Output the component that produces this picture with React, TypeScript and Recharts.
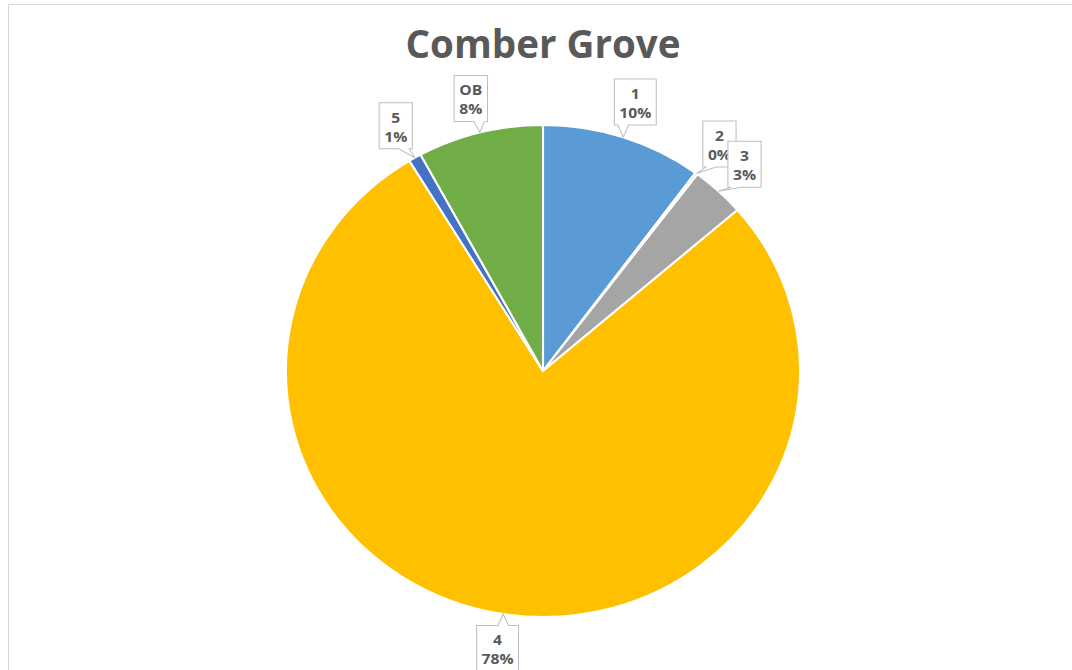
import React from "react";
import { PieChart, Pie, Cell } from "recharts";

const categories = ["1", "2", "3", "4", "5", "OB"];
const shares = [10.1, 0.15, 3.4, 77.65, 0.8, 7.9];
const colors = ["#5B9BD5", "#ED7D31", "#A5A5A5", "#FFC000", "#4472C4", "#70AD47"];
const title = "Comber Grove";

const data = categories.map((name, i) => ({ name, value: shares[i] }));

const RAD = Math.PI / 180;
const FONT = "'Open Sans', 'Noto Sans', sans-serif";
const TEXT = "#595959";
const BORDER = "#BFBFBF";

function charW(c: string) {
  if (c === "%") return 11.5;
  if (c === "O") return 11;
  if (c === "B") return 9;
  return 8.3;
}
function textW(s: string) {
  let w = 0;
  for (const c of s) w += charW(c);
  return w;
}

function renderLabel(props: any) {
  const { cx, cy, midAngle, outerRadius, percent, name } = props;
  const pct = Math.round(percent * 100) + "%";
  const w = Math.max(textW(name), textW(pct)) + 12;
  const h = 46;
  const ux = Math.cos(-midAngle * RAD);
  const uy = Math.sin(-midAngle * RAD);
  const support = Math.abs(ux) * (w / 2) + Math.abs(uy) * (h / 2);
  const R = outerRadius + 9 + support;
  const bx = cx + R * ux;
  const by = cy + R * uy;
  const tx = cx + outerRadius * ux;
  const ty = cy + outerRadius * uy;
  const x0 = bx - w / 2;
  const x1 = bx + w / 2;
  const y0 = by - h / 2;
  const y1 = by + h / 2;
  const hw = 5;
  const clamp = (v: number, a: number, b: number) => Math.max(a, Math.min(b, v));
  let d = "";
  if (ty > y1) {
    const bc = clamp(tx, x0 + 8, x1 - 8);
    d = `M${x0},${y0} L${x1},${y0} L${x1},${y1} L${bc + hw},${y1} L${tx},${ty} L${bc - hw},${y1} L${x0},${y1} Z`;
  } else if (ty < y0) {
    const bc = clamp(tx, x0 + 8, x1 - 8);
    d = `M${x0},${y0} L${bc - hw},${y0} L${tx},${ty} L${bc + hw},${y0} L${x1},${y0} L${x1},${y1} L${x0},${y1} Z`;
  } else if (tx < x0) {
    const bc = clamp(ty, y0 + 8, y1 - 8);
    d = `M${x0},${y0} L${x1},${y0} L${x1},${y1} L${x0},${y1} L${x0},${bc + hw} L${tx},${ty} L${x0},${bc - hw} Z`;
  } else {
    const bc = clamp(ty, y0 + 8, y1 - 8);
    d = `M${x0},${y0} L${x1},${y0} L${x1},${bc - hw} L${tx},${ty} L${x1},${bc + hw} L${x1},${y1} L${x0},${y1} Z`;
  }
  return (
    <g key={"lbl-" + name}>
      <path d={d} fill="#FFFFFF" stroke={BORDER} strokeWidth={1} />
      <text
        x={bx}
        y={y0 + 20}
        textAnchor="middle"
        fontFamily={FONT}
        fontWeight={700}
        fontSize={15}
        fill={TEXT}
      >
        {name}
      </text>
      <text
        x={bx}
        y={y0 + 39}
        textAnchor="middle"
        fontFamily={FONT}
        fontWeight={700}
        fontSize={15}
        fill={TEXT}
      >
        {pct}
      </text>
    </g>
  );
}

export default function App() {
  return (
    <div
      style={{
        position: "absolute",
        left: 0,
        top: 0,
        width: 1072,
        height: 670,
        background: "#FFFFFF",
        overflow: "hidden",
      }}
    >
      <div
        style={{
          position: "absolute",
          left: 8,
          top: 4,
          width: 1080,
          height: 700,
          border: "1px solid #D9D9D9",
          boxSizing: "border-box",
        }}
      />
      <svg
        width={1072}
        height={670}
        style={{ position: "absolute", left: 0, top: 0 }}
      >
        <text
          x={543}
          y={58}
          textAnchor="middle"
          fontFamily={FONT}
          fontWeight={700}
          fontSize={39}
          fill={TEXT}
          textLength={275}
          lengthAdjust="spacingAndGlyphs"
        >
          {title}
        </text>
      </svg>
      <div
        style={{
          position: "absolute",
          left: 0,
          top: 0,
          transform: "scaleX(1.045)",
          transformOrigin: "543px 0px",
        }}
      >
        <PieChart
          width={1072}
          height={670}
          margin={{ top: 0, right: 0, bottom: 0, left: 0 }}
        >
          <Pie
            data={data}
            dataKey="value"
            nameKey="name"
            cx={543}
            cy={371}
            outerRadius={246}
            startAngle={90}
            endAngle={-270}
            stroke="#FFFFFF"
            strokeWidth={2}
            label={renderLabel}
            labelLine={false}
            isAnimationActive={false}
          >
            {data.map((d, i) => (
              <Cell key={d.name} fill={colors[i]} />
            ))}
          </Pie>
        </PieChart>
      </div>
    </div>
  );
}
